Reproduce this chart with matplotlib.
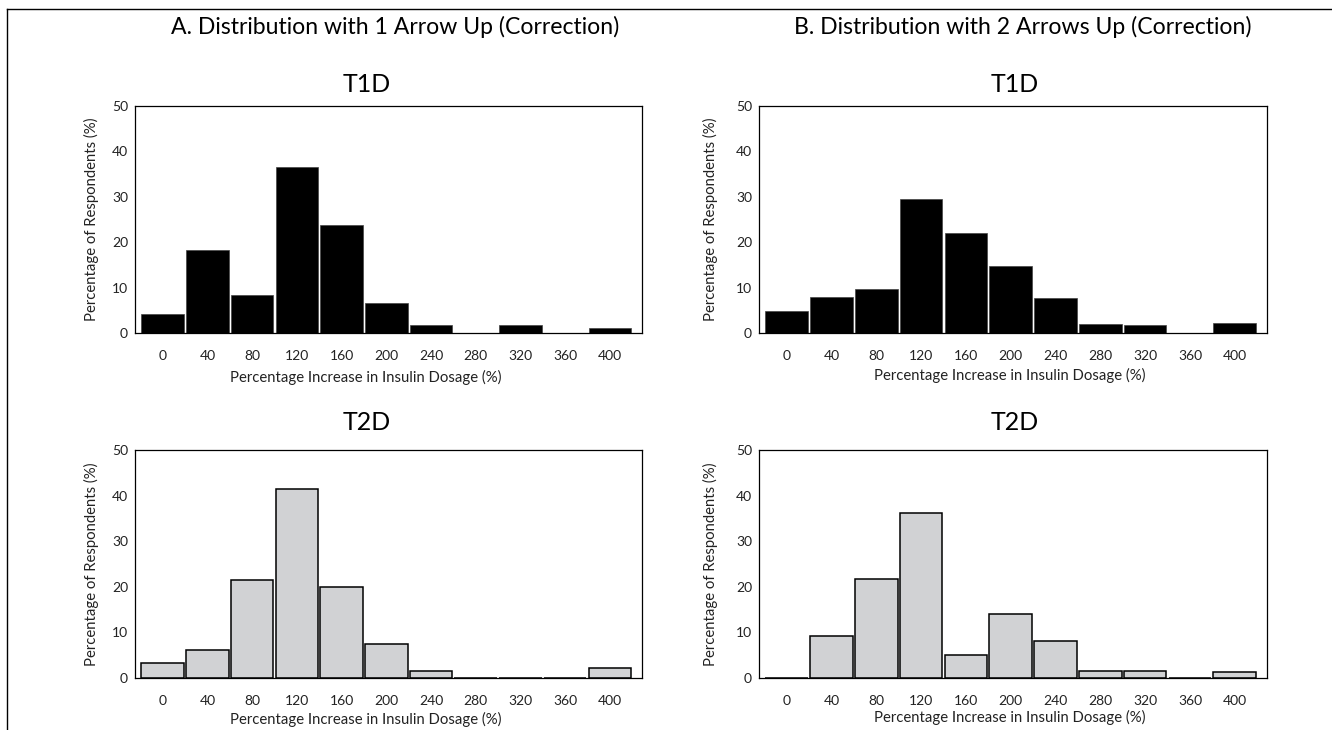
import numpy as np
import matplotlib
matplotlib.use("Agg")
import matplotlib.pyplot as plt
from matplotlib.lines import Line2D

# dosage increase categories (%)
dosage_labels = ["0", "40", "80", "120", "160", "200", "240", "280", "320", "360", "400"]

# percentage of respondents
a_t1d = [4.2, 18.3, 8.3, 36.6, 23.8, 6.7, 1.7, 0, 1.7, 0, 1.2]
a_t2d = [3.3, 6.2, 21.4, 41.5, 19.9, 7.4, 1.5, 0, 0, 0, 2.1]
b_t1d = [4.9, 7.9, 9.7, 29.6, 22.1, 14.8, 7.6, 1.9, 1.8, 0, 2.1]
b_t2d = [0, 9.3, 21.8, 36.1, 5.1, 14.0, 8.1, 1.5, 1.5, 0, 1.4]

y_ticks = [0, 10, 20, 30, 40, 50]

W, H = 1332, 730
plt.rcParams['font.family'] = ['Lato', 'DejaVu Sans']

fig = plt.figure(figsize=(W / 100, H / 100), dpi=100)


def fx(px):
    return px / W


def fy(py):
    return 1 - py / H


def draw_panel(rect, values, dark, ylab_x, xlab_xy):
    left, top, right, bottom = rect
    ax = fig.add_axes([fx(left), fy(bottom), (right - left) / W, (bottom - top) / H])
    x = np.arange(len(values))
    if dark:
        ax.bar(x, values, width=0.95, color="black", edgecolor="#444444", linewidth=0.5)
    else:
        ax.bar(x, values, width=0.95, color="#d1d2d4", edgecolor="black", linewidth=1.1)
    ax.set_xlim(-0.62, 10.72)
    ax.set_ylim(0, 50)
    ax.set_yticks(y_ticks)
    ax.set_xticks(x)
    ax.set_xticklabels(dosage_labels)
    ax.tick_params(axis="both", length=0, labelsize=10, colors="#222222")
    ax.tick_params(axis="x", pad=12)
    ax.tick_params(axis="y", pad=5)
    for s in ax.spines.values():
        s.set_linewidth(0.9)
    fig.text(fx(ylab_x), fy((top + bottom) / 2), "Percentage of Respondents (%)",
             rotation=90, ha="center", va="center", fontsize=10.7, color="#222222")
    fig.text(fx(xlab_xy[0]), fy(xlab_xy[1]), "Percentage Increase in Insulin Dosage (%)",
             ha="center", va="center", fontsize=10.7, color="#222222")
    return ax


draw_panel((135, 106, 642, 333), a_t1d, True, 91, (366, 377))
draw_panel((135, 450, 642, 678), a_t2d, False, 91, (366, 719))
draw_panel((759, 106, 1267, 333), b_t1d, True, 710, (1010, 375))
draw_panel((759, 450, 1267, 678), b_t2d, False, 710, (1010, 717))

# headings
fig.text(fx(395), fy(27), "A. Distribution with 1 Arrow Up (Correction)",
         ha="center", va="center", fontsize=16.6)
fig.text(fx(1023), fy(27), "B. Distribution with 2 Arrows Up (Correction)",
         ha="center", va="center", fontsize=16.6)
for xc in (367, 1015):
    fig.text(fx(xc), fy(85), "T1D", ha="center", va="center", fontsize=18)
    fig.text(fx(xc), fy(423), "T2D", ha="center", va="center", fontsize=18)

# outer frame (top and left edges only)
fig.add_artist(Line2D([fx(7), 1], [fy(9), fy(9)], color="black", linewidth=1.0))
fig.add_artist(Line2D([fx(7), fx(7)], [0, fy(9)], color="black", linewidth=1.0))

fig.savefig("out.png", dpi=100)
